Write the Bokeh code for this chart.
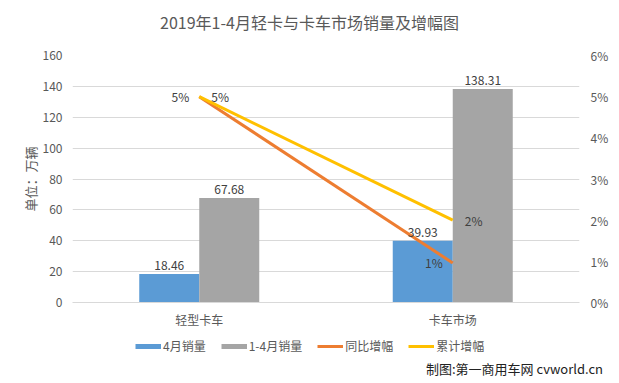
from bokeh.plotting import figure
from bokeh.layouts import column
from bokeh.core.properties import value
from bokeh.models import (ColumnDataSource, Range1d, LinearAxis, FactorRange, Legend, LegendItem,
                          NumeralTickFormatter, FixedTicker, LabelSet, Div)
from bokeh.transform import dodge
from bokeh.embed import file_html
from bokeh.resources import INLINE

title_text = "2019年1-4月轻卡与卡车市场销量及增幅图"
credit_text = "制图:第一商用车网 cvworld.cn"
categories = ["轻型卡车", "卡车市场"]
april_sales = [18.46, 39.93]
ytd_sales = [67.68, 138.31]
yoy_growth = [0.05, 0.0096]
cum_growth = [0.05, 0.02]
april_labels = ["18.46", "39.93"]
ytd_labels = ["67.68", "138.31"]
yoy_labels = ["5%", "1%"]
cum_labels = ["5%", "2%"]
series_names = ["4月销量", "1-4月销量", "同比增幅", "累计增幅"]

FONT = "Noto Sans CJK SC"
GRAY_TXT = "#595959"
COLORS = ["#5B9BD5", "#A5A5A5", "#ED7D31", "#FFC000"]

src = ColumnDataSource(dict(cat=categories, apr=april_sales, ytd=ytd_sales,
                            yoy=yoy_growth, cum=cum_growth,
                            apr_l=april_labels, ytd_l=ytd_labels,
                            yoy_l=yoy_labels, cum_l=cum_labels))

# ---- title (HTML text) ----
title_div = Div(text=f'<div style="width:619px;text-align:center;font-family:\'{FONT}\';'
                     f'font-size:16px;color:{GRAY_TXT};line-height:20px;padding-top:12px;">'
                     f'{title_text}</div>',
                width=619, height=43, margin=0)

# ---- main chart ----
p = figure(width=619, height=287, x_range=FactorRange(*categories), y_range=Range1d(0, 160),
           output_backend="svg", toolbar_location=None,
           min_border_left=72, min_border_right=40, min_border_top=12, min_border_bottom=26)
p.extra_y_ranges = {"pct": Range1d(0, 0.06)}
p.outline_line_color = None
p.background_fill_color = "white"
p.border_fill_color = "white"

bw = 0.2367
p.vbar(x=dodge("cat", -bw / 2, range=p.x_range), top="apr", width=bw, source=src,
       color=COLORS[0], line_color=None)
p.vbar(x=dodge("cat", bw / 2, range=p.x_range), top="ytd", width=bw, source=src,
       color=COLORS[1], line_color=None)
p.line(x="cat", y="yoy", source=src, y_range_name="pct", color=COLORS[2], line_width=3)
p.line(x="cat", y="cum", source=src, y_range_name="pct", color=COLORS[3], line_width=3)

lab_kw = dict(text_font_size="12px", text_color="#404040", text_font=value(FONT))
p.add_layout(LabelSet(x=dodge("cat", -bw / 2, range=p.x_range), y="apr", text="apr_l", source=src,
                      text_align="center", y_offset=4, **lab_kw))
p.add_layout(LabelSet(x=dodge("cat", bw / 2, range=p.x_range), y="ytd", text="ytd_l", source=src,
                      text_align="center", y_offset=4, **lab_kw))
p.add_layout(LabelSet(x="cat", y="yoy", text="yoy_l", source=src, y_range_name="pct",
                      text_align="right", text_baseline="middle", x_offset=-10, **lab_kw))
p.add_layout(LabelSet(x="cat", y="cum", text="cum_l", source=src, y_range_name="pct",
                      text_align="left", text_baseline="middle", x_offset=12, **lab_kw))

p.yaxis.ticker = FixedTicker(ticks=list(range(0, 161, 20)))
right = LinearAxis(y_range_name="pct", ticker=FixedTicker(ticks=[i / 100 for i in range(7)]),
                   formatter=NumeralTickFormatter(format="0%"))
p.add_layout(right, "right")
for ax in [p.yaxis[0], right, p.xaxis[0]]:
    ax.major_tick_line_color = None
    ax.minor_tick_line_color = None
    ax.major_tick_out = 0
    ax.major_tick_in = 0
    ax.minor_tick_out = 0
    ax.minor_tick_in = 0
    ax.major_label_text_color = GRAY_TXT
    ax.major_label_text_font = FONT
for ax in [p.yaxis[0], right]:
    ax.axis_line_color = None
    ax.major_label_text_font_size = "12px"
p.yaxis[0].major_label_standoff = 10
right.major_label_standoff = 11
p.yaxis[0].axis_label = "单位：万辆"
p.yaxis[0].axis_label_text_font = FONT
p.yaxis[0].axis_label_text_font_size = "13px"
p.yaxis[0].axis_label_text_font_style = "normal"
p.yaxis[0].axis_label_text_color = GRAY_TXT
p.yaxis[0].axis_label_standoff = 0

p.xaxis.axis_line_color = "#d9d9d9"
p.xaxis.major_label_text_font_size = "12px"
p.xaxis.major_label_standoff = 8

p.xgrid.grid_line_color = None
p.ygrid.grid_line_color = "#d9d9d9"

# ---- legend strip ----
q = figure(width=619, height=30, x_range=Range1d(0, 1), y_range=Range1d(0, 1),
           output_backend="svg", toolbar_location=None, x_axis_type=None, y_axis_type=None,
           min_border=0)
q.outline_line_color = None
q.grid.grid_line_color = None
q.border_fill_color = "white"
q.background_fill_color = "white"

swatch_widths = [5, 5, 3, 3]
items = []
for name, col, lw in zip(series_names, COLORS, swatch_widths):
    r = q.line(x=[float("nan")], y=[float("nan")], color=col, line_width=lw, line_cap="butt")
    items.append(LegendItem(label=name, renderers=[r]))

legend = Legend(items=items, orientation="horizontal", location=(63, 6),
                glyph_width=26, glyph_height=10, label_text_font=FONT, label_text_font_size="12px",
                label_text_color=GRAY_TXT, border_line_color=None, background_fill_alpha=0,
                spacing=15, label_standoff=2, padding=4, margin=0)
q.add_layout(legend, "center")

# ---- credit line (HTML text) ----
credit_div = Div(text=f'<div style="width:603px;text-align:right;font-family:\'{FONT}\';'
                      f'font-size:13px;color:#222222;line-height:18px;">{credit_text}</div>',
                 width=619, height=23, margin=0)

layout = column(title_div, p, q, credit_div, spacing=0)
open("out.html", "w").write(file_html(layout, INLINE))
